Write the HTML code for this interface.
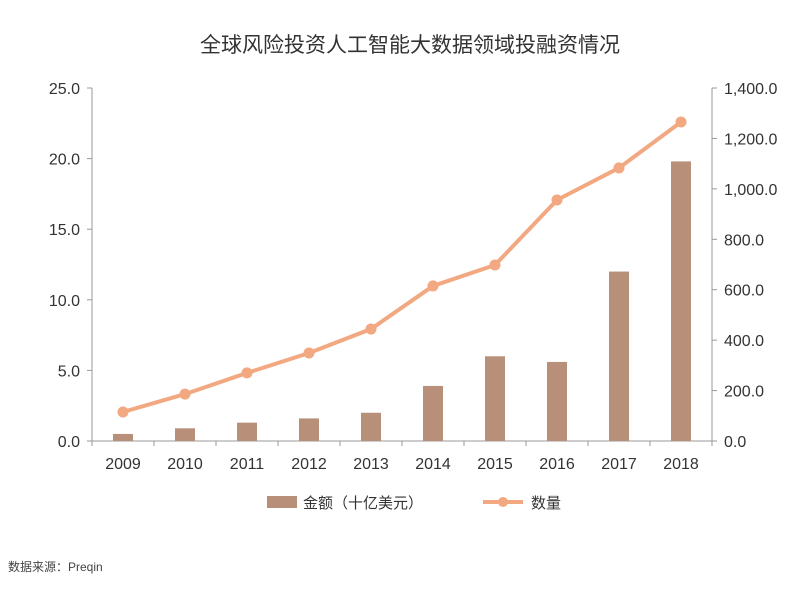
<!DOCTYPE html>
<html><head><meta charset="utf-8"><style>
body{margin:0;background:#fff;width:800px;height:588px;overflow:hidden;font-family:"Liberation Sans","Noto Sans CJK SC",sans-serif}
</style></head><body>
<svg id="chart" width="800" height="588" xmlns="http://www.w3.org/2000/svg">
<text x="410" y="52" text-anchor="middle" font-size="21" fill="#333" font-family="Liberation Sans, Noto Sans CJK SC, sans-serif">全球风险投资人工智能大数据领域投融资情况</text>
<g id="axes"></g><g id="bars"></g><g id="line"></g>
<g>
<rect x="267" y="496" width="30" height="12" fill="#b89079"/>
<text x="303" y="508" font-size="15" fill="#333">金额（十亿美元）</text>
<line x1="483" y1="502" x2="523" y2="502" stroke="#f2a880" stroke-width="4"/>
<circle cx="503" cy="502" r="5" fill="#f2a880"/>
<text x="531" y="508" font-size="15" fill="#333">数量</text>
</g>
<text x="8" y="571" font-size="12" fill="#444">数据来源：Preqin</text>
</svg>
<script>
const categories=["2009","2010","2011","2012","2013","2014","2015","2016","2017","2018"];
const amounts=[0.5,0.9,1.3,1.6,2.0,3.9,6.0,5.6,12.0,19.8];
const counts=[115,186,270,349,444,615,698,956,1083,1265];
const leftTicks=[0,5,10,15,20,25];
const rightTicks=[0,200,400,600,800,1000,1200,1400];
const NS="http://www.w3.org/2000/svg";
const x0=92,x1=712,yB=441,yT=88;
const step=(x1-x0)/categories.length;
const xPos=i=>x0+step*(i+0.5);
const yL=v=>yB-(v/25)*(yB-yT);
const yR=v=>yB-(v/1400)*(yB-yT);
function mk(tag,attrs,parent){const e=document.createElementNS(NS,tag);for(const k in attrs)e.setAttribute(k,attrs[k]);document.getElementById(parent).appendChild(e);return e;}
const fmt=v=>v.toLocaleString('en-US',{minimumFractionDigits:1,maximumFractionDigits:1});
let e=mk('line',{x1:x0,y1:yT,x2:x0,y2:yB,stroke:'#999'},'axes');


e=mk('line',{x1:x1,y1:yT,x2:x1,y2:yB,stroke:'#999'},'axes');


e=mk('line',{x1:x0,y1:yB,x2:x1,y2:yB,stroke:'#999'},'axes');


leftTicks.forEach(v=>{
 mk('line',{x1:x0-5,y1:yL(v),x2:x0,y2:yL(v),stroke:'#999'},'axes');
 const t=mk('text',{x:x0-12,y:yL(v)+6,'text-anchor':'end','font-size':16,fill:'#333'},'axes');
 t.textContent=fmt(v);
 
 
});
rightTicks.forEach(v=>{
 mk('line',{x1:x1,y1:yR(v),x2:x1+5,y2:yR(v),stroke:'#999'},'axes');
 const t=mk('text',{x:x1+12,y:yR(v)+6,'font-size':16,fill:'#333'},'axes');
 t.textContent=fmt(v);
 
 
});
categories.forEach((c,i)=>{
 mk('line',{x1:x0+step*i,y1:yB,x2:x0+step*i,y2:yB+5,stroke:'#999'},'axes');
 const t=mk('text',{x:xPos(i),y:yB+28,'text-anchor':'middle','font-size':16,fill:'#333'},'axes');
 t.textContent=c;
 
 
});
mk('line',{x1:x1,y1:yB,x2:x1,y2:yB+5,stroke:'#999'},'axes');
amounts.forEach((v,i)=>{
 const b=mk('rect',{x:xPos(i)-10,y:yL(v),width:20,height:yB-yL(v),fill:'#b89079'},'bars');
 
 
});
const p=mk('polyline',{points:counts.map((v,i)=>xPos(i)+','+yR(v)).join(' '),fill:'none',stroke:'#f2a880','stroke-width':4},'line');


counts.forEach((v,i)=>{
 const c=mk('circle',{cx:xPos(i),cy:yR(v),r:5.5,fill:'#f2a880'},'line');
 
 
});
</script>
</body></html>
